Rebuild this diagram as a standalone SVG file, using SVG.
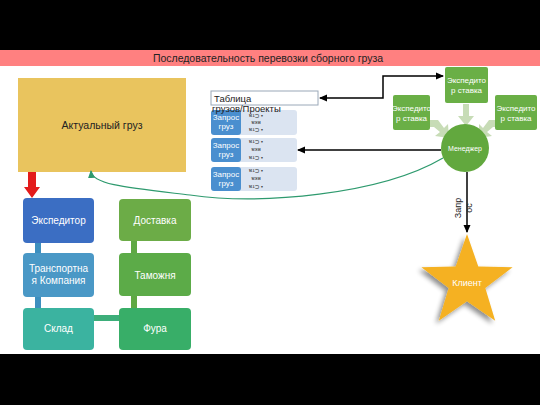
<svg xmlns="http://www.w3.org/2000/svg" width="540" height="405" viewBox="0 0 540 405">
<defs>
<style>
text{font-family:"Liberation Sans",Arial,sans-serif}
.w{fill:#fff;font-size:10px;text-anchor:middle}
.ws{fill:#fff;font-size:8px;text-anchor:middle}
.ds{fill:#333;font-size:6px;text-anchor:middle}
.bar{fill:none;stroke-width:6}
.blk{fill:none;stroke:#000;stroke-width:1.5}
</style>
<marker id="ah" markerWidth="8" markerHeight="8" refX="7" refY="4" orient="auto" markerUnits="userSpaceOnUse"><path d="M0,0.5 L8,4 L0,7.5 Z" fill="#000"/></marker>
<marker id="ahs" markerWidth="8" markerHeight="8" refX="1" refY="4" orient="auto" markerUnits="userSpaceOnUse"><path d="M8,0.5 L0,4 L8,7.5 Z" fill="#000"/></marker>
<marker id="ag" markerWidth="8" markerHeight="8" refX="7" refY="4" orient="auto" markerUnits="userSpaceOnUse"><path d="M0,0.5 L8,4 L0,7.5 Z" fill="#2e9a6e"/></marker>
<filter id="sh" x="-30%" y="-30%" width="160%" height="160%"><feGaussianBlur in="SourceAlpha" stdDeviation="2.5"/><feOffset dx="-3" dy="3"/><feComponentTransfer><feFuncA type="linear" slope="0.45"/></feComponentTransfer><feMerge><feMergeNode/><feMergeNode in="SourceGraphic"/></feMerge></filter>
</defs>
<rect x="0" y="0" width="540" height="405" fill="#fff"/>
<rect x="0" y="0" width="540" height="50" fill="#000"/>
<rect x="0" y="354" width="540" height="51" fill="#000"/>

<g id="title">
<rect x="0" y="50" width="540" height="16" fill="#ff8080"/>
<text x="268" y="62" font-size="10.5" text-anchor="middle" fill="#222">Последовательность перевозки сборного груза</text>
</g>

<g id="actual">
<rect x="18" y="78" width="168" height="94" fill="#e9c45e"/>
<text x="102" y="129" font-size="10.5" text-anchor="middle" fill="#222">Актуальный груз</text>
</g>

<g id="connectors">
<path d="M28,172 V187 H24 L32,198 L40,187 H36 V172 Z" fill="#e31b1b"/>
<path class="bar" d="M38,240 V310" stroke="#3d8fbf"/>
<path class="bar" d="M134,240 V310" stroke="#5fa844"/>
<path class="bar" d="M90,318 H124" stroke="#3dae7a"/>
<path class="blk" d="M320,98 H383 V76 H443" marker-start="url(#ahs)" marker-end="url(#ah)"/>
<path class="blk" d="M441,150 H298" marker-end="url(#ah)"/>
<path class="blk" d="M467,172 V232" marker-end="url(#ah)"/>
<path d="M443,158 C380,195 260,205 190,195 C130,188 92,185 91,171" fill="none" stroke="#2e9a6e" stroke-width="1.2" marker-end="url(#ag)"/>
<path d="M463,104 V116 H458 L466,126 L474,116 H469 V104 Z" fill="#c7dcb6"/>
<path d="M430,120 L438,120 L444,128 L448,124 L449,138 L435,136 L440,132 L434,127 L430,127 Z" fill="#c7dcb6"/>
<path d="M496,120 L489,120 L483,128 L479,124 L479,138 L492,136 L487,132 L493,127 L496,127 Z" fill="#c7dcb6"/>
<text x="461" y="208" font-size="9" fill="#222" text-anchor="middle" transform="rotate(-90 461 208)">Запр</text>
<text x="472" y="208" font-size="9" fill="#222" text-anchor="middle" transform="rotate(-90 472 208)">ос</text>
</g>

<g id="ekspeditor"><rect x="23" y="198" width="71" height="45" rx="4" fill="#3b6ec3"/><text class="w" x="58.5" y="224">Экспедитор</text></g>
<g id="transport"><rect x="23" y="253" width="71" height="44" rx="4" fill="#4a98c6"/><text class="w" x="58.5" y="272">Транспортна</text><text class="w" x="58.5" y="284">я Компания</text></g>
<g id="sklad"><rect x="23" y="308" width="71" height="42" rx="4" fill="#3bb3a0"/><text class="w" x="58.5" y="332">Склад</text></g>
<g id="dostavka"><rect x="119" y="199" width="72" height="42" rx="4" fill="#6cac47"/><text class="w" x="155" y="224">Доставка</text></g>
<g id="tamozhnya"><rect x="119" y="253" width="72" height="43" rx="4" fill="#5cab48"/><text class="w" x="155" y="279">Таможня</text></g>
<g id="fura"><rect x="119" y="308" width="72" height="42" rx="4" fill="#38ae68"/><text class="w" x="155" y="332">Фура</text></g>

<g id="table">
<rect x="211" y="91" width="107" height="14" fill="#fff" stroke="#9aa8b8" stroke-width="1"/>
<text x="214" y="102" font-size="9.5" fill="#222">Таблица</text>
</g>

<g id="zapros1">
<rect x="236" y="110" width="61" height="25" rx="3" fill="#dbe4f1"/>
<rect x="211" y="110" width="30" height="25" rx="3" fill="#4a8fcf"/>
<text class="ws" x="226" y="120">Запрос</text><text class="ws" x="226" y="129">груз</text>
<g transform="rotate(180 256 123)"><text class="ds" x="256" y="118">• Ста</text><text class="ds" x="256" y="125">вка</text><text class="ds" x="256" y="132">• Ста</text></g>
</g>
<g id="zapros2">
<rect x="236" y="138" width="61" height="24" rx="3" fill="#dbe4f1"/>
<rect x="211" y="138" width="30" height="24" rx="3" fill="#4a8fcf"/>
<text class="ws" x="226" y="148">Запрос</text><text class="ws" x="226" y="157">груз</text>
<g transform="rotate(180 256 150)"><text class="ds" x="256" y="144">• Ста</text><text class="ds" x="256" y="152">вка</text><text class="ds" x="256" y="160">• Ста</text></g>
</g>
<g id="zapros3">
<rect x="236" y="167" width="61" height="24" rx="3" fill="#dbe4f1"/>
<rect x="211" y="167" width="30" height="24" rx="3" fill="#4a8fcf"/>
<text class="ws" x="226" y="177">Запрос</text><text class="ws" x="226" y="186">груз</text>
<g transform="rotate(180 256 179)"><text class="ds" x="256" y="173">• Ста</text><text class="ds" x="256" y="181">вка</text><text class="ds" x="256" y="189">• Ста</text></g>
</g>
<text x="212" y="112" font-size="9.5" fill="#222">грузов/Проекты</text>

<g id="eks_top"><rect x="445" y="67" width="43" height="36" rx="2" fill="#6aaf46"/><text class="ws" x="466.5" y="83">Экспедито</text><text class="ws" x="466.5" y="93">р ставка</text></g>
<g id="eks_left"><rect x="393" y="95" width="37" height="35" rx="2" fill="#6aaf46"/><text class="ws" x="411.5" y="111">Экспедито</text><text class="ws" x="411.5" y="121">р ставка</text></g>
<g id="eks_right"><rect x="495" y="95" width="42" height="35" rx="2" fill="#6aaf46"/><text class="ws" x="516" y="111">Экспедито</text><text class="ws" x="516" y="121">р ставка</text></g>
<g id="manager"><circle cx="465" cy="148" r="24" fill="#62a83e"/><text x="465" y="151" font-size="7" fill="#fff" text-anchor="middle">Менеджер</text></g>

<g id="client">
<polygon filter="url(#sh)" fill="#f5b120" points="467,234 478.3,266.5 512.6,267.2 485.3,288 495.2,320.8 467,301.3 438.8,320.8 448.7,288 421.4,267.2 455.7,266.5"/>
<text x="467" y="286" font-size="9" fill="#fff" text-anchor="middle">Клиент</text>
</g>
</svg>
